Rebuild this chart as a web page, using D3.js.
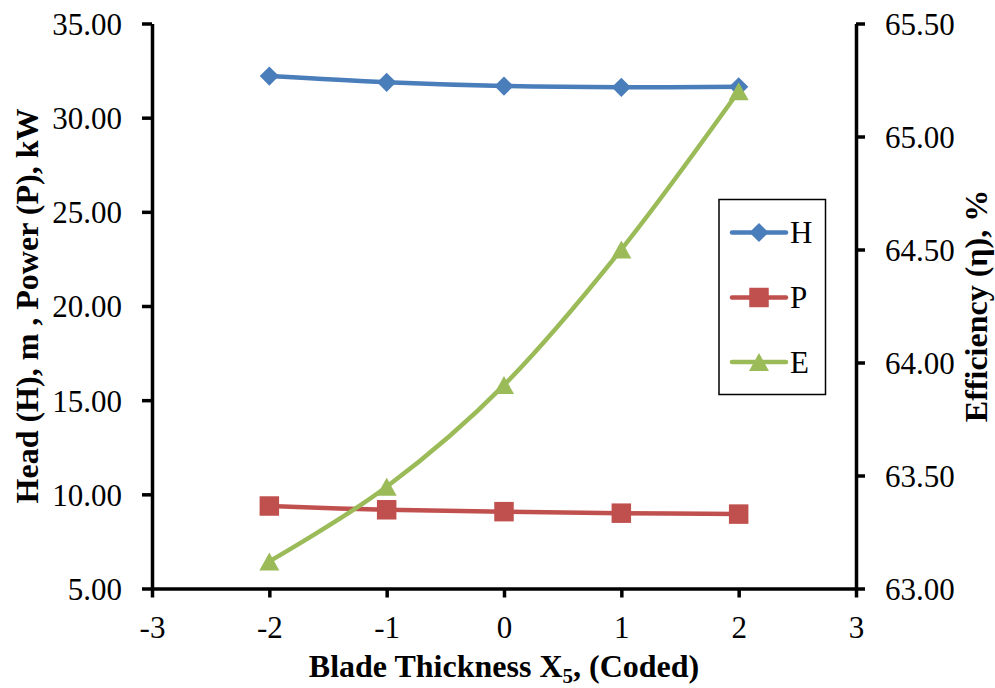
<!DOCTYPE html>
<html>
<head>
<meta charset="utf-8">
<script src="https://cdn.jsdelivr.net/npm/d3@7/dist/d3.min.js"></script>
<style>
  html, body { margin: 0; padding: 0; background: #fff; }
  svg { display: block; }
  text { font-family: "Liberation Serif", "Times New Roman", serif; fill: #000; }
</style>
</head>
<body>
<svg id="chart" width="995" height="688"></svg>
<script>
// Coded blade thickness levels
const xLevels = [-2, -1, 0, 1, 2];
// Head (m) and power (kW) on the left axis
const headH = [32.21, 31.88, 31.68, 31.61, 31.64];
const powerP = [9.38, 9.18, 9.08, 9.0, 8.95];
// Efficiency (%) on the right axis
const effE = [63.12, 63.45, 63.90, 64.50, 65.20];

const xTicks = [-3, -2, -1, 0, 1, 2, 3];
const leftTicks = [5, 10, 15, 20, 25, 30, 35];
const rightTicks = [63.0, 63.5, 64.0, 64.5, 65.0, 65.5];

const svg = d3.select("#chart");
const m = { left: 152, right: 856, top: 23.5, bottom: 588.5 };

const x = d3.scaleLinear().domain([-3, 3]).range([m.left, m.right]);
const yL = d3.scaleLinear().domain([5, 35]).range([m.bottom, m.top]);
const yR = d3.scaleLinear().domain([63, 65.5]).range([m.bottom, m.top]);

const tickFont = "31px";
const titleFont = "32px";

// Axes
const gx = svg.append("g").attr("transform", `translate(0,${m.bottom})`)
  .call(d3.axisBottom(x).tickValues(xTicks).tickFormat(d => String(d)).tickSize(9).tickSizeOuter(0).tickPadding(18));
const gl = svg.append("g").attr("transform", `translate(${m.left},0)`)
  .call(d3.axisLeft(yL).tickValues(leftTicks).tickFormat(d3.format(".2f")).tickSize(10).tickSizeOuter(0).tickPadding(20));
const gr = svg.append("g").attr("transform", `translate(${m.right},0)`)
  .call(d3.axisRight(yR).tickValues(rightTicks).tickFormat(d3.format(".2f")).tickSize(9).tickSizeOuter(0).tickPadding(20));

[gx, gl, gr].forEach(g => {
  g.selectAll("path.domain").attr("stroke", "#000").attr("stroke-width", 3.5);
  g.selectAll(".tick line").attr("stroke", "#000").attr("stroke-width", 3.5);
  g.selectAll(".tick text")
    .style("font-family", '"Liberation Serif", "Times New Roman", serif')
    .style("font-size", tickFont).attr("fill", "#000");
});
gl.selectAll(".tick text").attr("dy", "0.35em");
gr.selectAll(".tick text").attr("dy", "0.35em");

// Axis titles
const xt = svg.append("text")
  .attr("x", (m.left + m.right) / 2).attr("y", 677)
  .attr("text-anchor", "middle")
  .style("font-size", titleFont).style("font-weight", "bold");
xt.append("tspan").text("Blade Thickness X");
xt.append("tspan").attr("font-size", "21px").attr("dy", 6).text("5");
xt.append("tspan").attr("dy", -6).text(", (Coded)");

svg.append("text")
  .attr("transform", `translate(37.5,${(m.top + m.bottom) / 2}) rotate(-90)`)
  .attr("text-anchor", "middle")
  .style("font-size", titleFont).style("font-weight", "bold")
  .text("Head (H), m , Power (P), kW");

svg.append("text")
  .attr("transform", `translate(987,${(m.top + m.bottom) / 2}) rotate(-90)`)
  .attr("text-anchor", "middle")
  .style("font-size", titleFont).style("font-weight", "bold")
  .text("Efficiency (\u03b7), %");

// Marker shapes: a square turned 45° for the diamond, a bbox-centred triangle
const diamondPath = d3.symbol().type(d3.symbolSquare).size(185)();
const squarePath = d3.symbol().type(d3.symbolSquare).size(380)();
const trianglePath = (() => {
  const w = 20, h = 18;
  return `M0,${-h / 2}L${w / 2},${h / 2}L${-w / 2},${h / 2}Z`;
})();

// Series
const series = [
  { name: "H", values: headH, y: yL, color: "#4A7EBB", d: diamondPath, rot: 45 },
  { name: "P", values: powerP, y: yL, color: "#C0504D", d: squarePath, rot: 0 },
  { name: "E", values: effE, y: yR, color: "#9BBB59", d: trianglePath, rot: 0 }
];

const curve = d3.curveCatmullRom.alpha(0);

series.forEach(s => {
  const pts = xLevels.map((xv, i) => [x(xv), s.y(s.values[i])]);
  svg.append("path")
    .attr("d", d3.line().curve(curve)(pts))
    .attr("fill", "none").attr("stroke", s.color)
    .attr("stroke-width", 4.5).attr("stroke-linejoin", "round");
  svg.append("g").selectAll("path").data(pts).join("path")
    .attr("transform", d => `translate(${d[0]},${d[1]}) rotate(${s.rot})`)
    .attr("d", s.d)
    .attr("fill", s.color);
});

// Legend
const lg = svg.append("g");
lg.append("rect")
  .attr("x", 719).attr("y", 199.5).attr("width", 106.5).attr("height", 195)
  .attr("fill", "#fff").attr("stroke", "#000").attr("stroke-width", 1.5);
const legendY = [232.5, 297.5, 362];
series.forEach((s, i) => {
  const ly = legendY[i];
  lg.append("line").attr("x1", 732).attr("x2", 786).attr("y1", ly).attr("y2", ly)
    .attr("stroke", s.color).attr("stroke-width", 4.5).attr("stroke-linecap", "round");
  lg.append("path").attr("transform", `translate(759,${ly}) rotate(${s.rot})`)
    .attr("d", s.d)
    .attr("fill", s.color);
  lg.append("text").attr("x", 790).attr("y", ly).attr("dy", "0.35em")
    .style("font-size", tickFont).text(s.name);
});
</script>
</body>
</html>
